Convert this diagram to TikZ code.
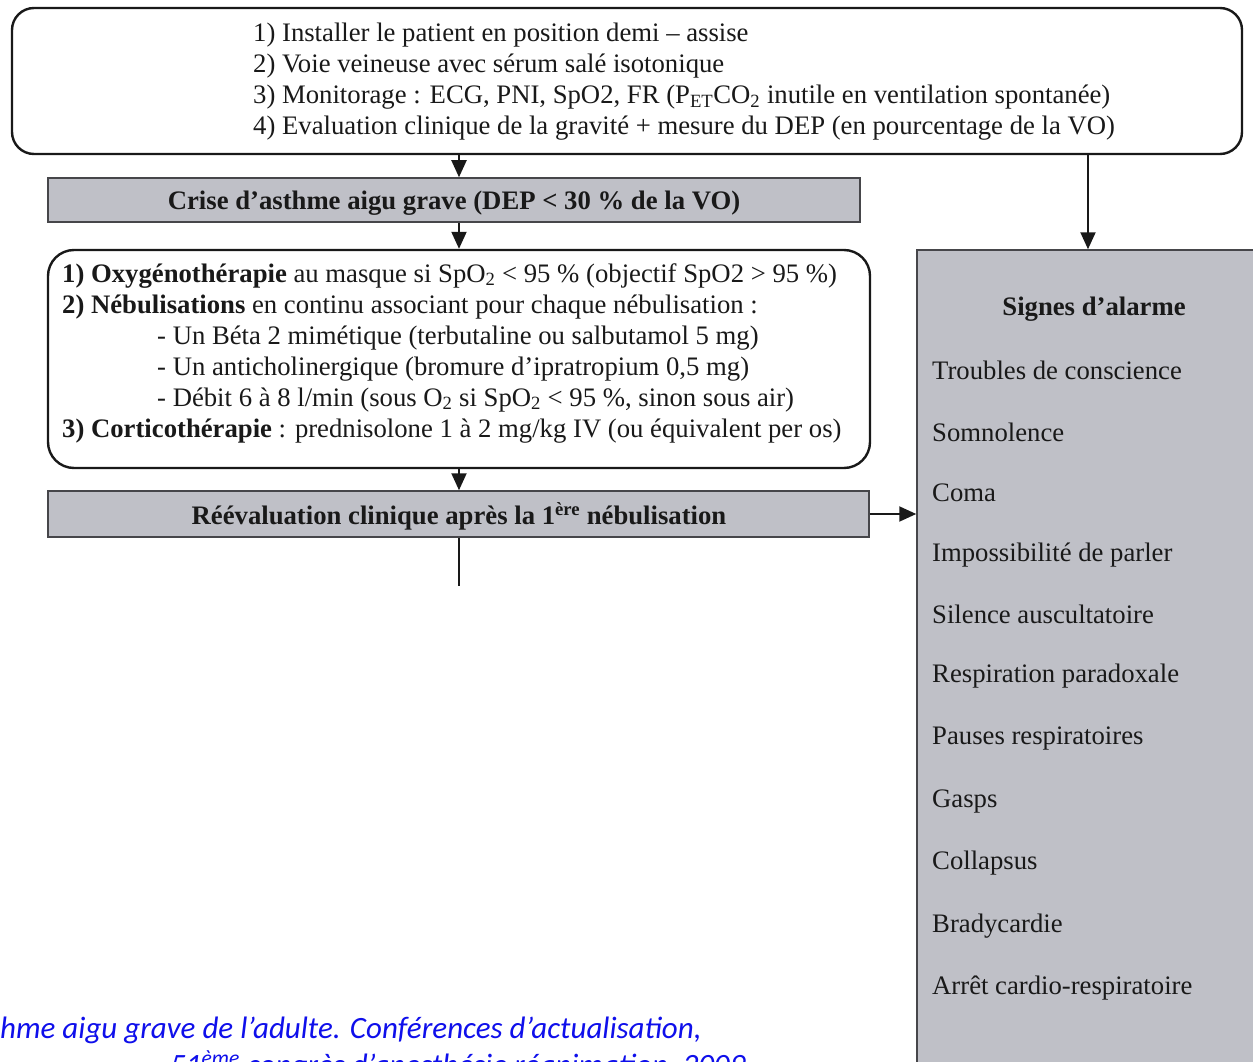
\documentclass[tikz,border=0pt]{standalone}
\usepackage{fontspec}
\setmainfont{Liberation Serif}
\newfontfamily\capfont{Carlito}
\usetikzlibrary{arrows.meta}
\definecolor{boxgray}{RGB}{191,192,199}
\definecolor{inkc}{RGB}{25,25,25}
\definecolor{bordc}{RGB}{70,70,74}
\definecolor{capblue}{RGB}{15,15,235}
\tikzset{
  roundbox/.style={draw=inkc, line width=2.4pt, rounded corners=22pt, fill=white},
  graybox/.style={draw=bordc, line width=1.5pt, fill=boxgray},
  txt/.style={inner sep=0pt, text=inkc, align=left, font=\fontsize{26.7}{31}\selectfont},
  btxt/.style={txt, font=\bfseries\fontsize{26.7}{31}\selectfont},
  arr/.style={draw=inkc, line width=2pt, -{Triangle[length=17pt,width=15pt]}},
  plainline/.style={draw=inkc, line width=2pt},
  captxt/.style={inner sep=0pt, text=capblue, font=\capfont\itshape\fontsize{31}{34}\selectfont}
}
\begin{document}
\begin{tikzpicture}[x=1pt,y=-1pt]
\useasboundingbox (0,0) rectangle (1253,1062);
\clip (0,0) rectangle (1253,1062);
\fill[white] (0,0) rectangle (1253,1062);

% top box
\node[roundbox, minimum width=1230pt, minimum height=146pt] (top) at (627,81) {};
\node[txt, anchor=west] (toptext) at (253,82) {1) Installer le patient en position demi -- assise\\
2) Voie veineuse avec sérum salé isotonique\\
3) Monitorage : ECG, PNI, SpO2, FR (P\textsubscript{ET}CO\textsubscript{2} inutile en ventilation spontanée)\\
4) Evaluation clinique de la gravité + mesure du DEP (en pourcentage de la VO)};

% crisis box
\node[graybox, minimum width=812pt, minimum height=44pt] (crisis) at (454,200) {};
\node[btxt] (crisistext) at (454,203) {Crise d'asthme aigu grave (DEP < 30 \% de la VO)};

% treatment box
\node[roundbox, rounded corners=26pt, minimum width=822pt, minimum height=218pt] (treat) at (459,359) {};
\node[txt, anchor=west] (treattext) at (62,353) {\textbf{1) Oxygénothérapie} au masque si SpO\textsubscript{2} < 95 \% (objectif SpO2 > 95 \%)\\
\textbf{2) Nébulisations} en continu associant pour chaque nébulisation :\\
\hspace*{95pt}- Un Béta 2 mimétique (terbutaline ou salbutamol 5 mg)\\
\hspace*{95pt}- Un anticholinergique (bromure d'ipratropium 0,5 mg)\\
\hspace*{95pt}- Débit 6 à 8 l/min (sous O\textsubscript{2} si SpO\textsubscript{2} < 95 \%, sinon sous air)\\
\textbf{3) Corticothérapie} : prednisolone 1 à 2 mg/kg IV (ou équivalent per os)};

% reevaluation box
\node[graybox, minimum width=821pt, minimum height=46pt] (reeval) at (458.5,514) {};
\node[btxt] (reevaltext) at (459,516) {Réévaluation clinique après la 1\textsuperscript{ère} nébulisation};

% alarm box
\node[graybox, minimum width=350pt, minimum height=830pt] (alarm) at (1092,665) {};
\node[btxt] (alarmtitle) at (1094,309) {Signes d'alarme};
\foreach \t/\yy [count=\i] in {Troubles de conscience/370, Somnolence/432, Coma/493, Impossibilité de parler/555, Silence auscultatoire/614, Respiration paradoxale/676, Pauses respiratoires/738, Gasps/801, Collapsus/863, Bradycardie/926, Arrêt cardio-respiratoire/988}
  \node[txt, anchor=west] (sign\i) at (932,\yy) {\t};

% connectors
\coordinate (axis) at (459,0);
\coordinate (axisR) at (1088,0);
\coordinate (cont) at (459,586);
\draw[arr] (top.south -| axis) -- (crisis.north -| axis);
\draw[arr] (crisis.south -| axis) -- (treat.north -| axis);
\draw[arr] (treat.south -| axis) -- (reeval.north -| axis);
\draw[plainline] (reeval.south -| axis) -- (cont);
\draw[arr] (reeval.east) -- (reeval.east -| alarm.west);
\draw[arr] (top.south -| axisR) -- (alarm.north -| axisR);

% caption
\node[captxt, anchor=base west] (cap1) at (0,1038) {hme aigu grave de l’adulte. Conférences d’actualisation,};
\node[captxt, anchor=base west] (cap2) at (170,1075) {51\textsuperscript{ème} congrès d’anesthésie réanimation, 2009};
\end{tikzpicture}
\end{document}
